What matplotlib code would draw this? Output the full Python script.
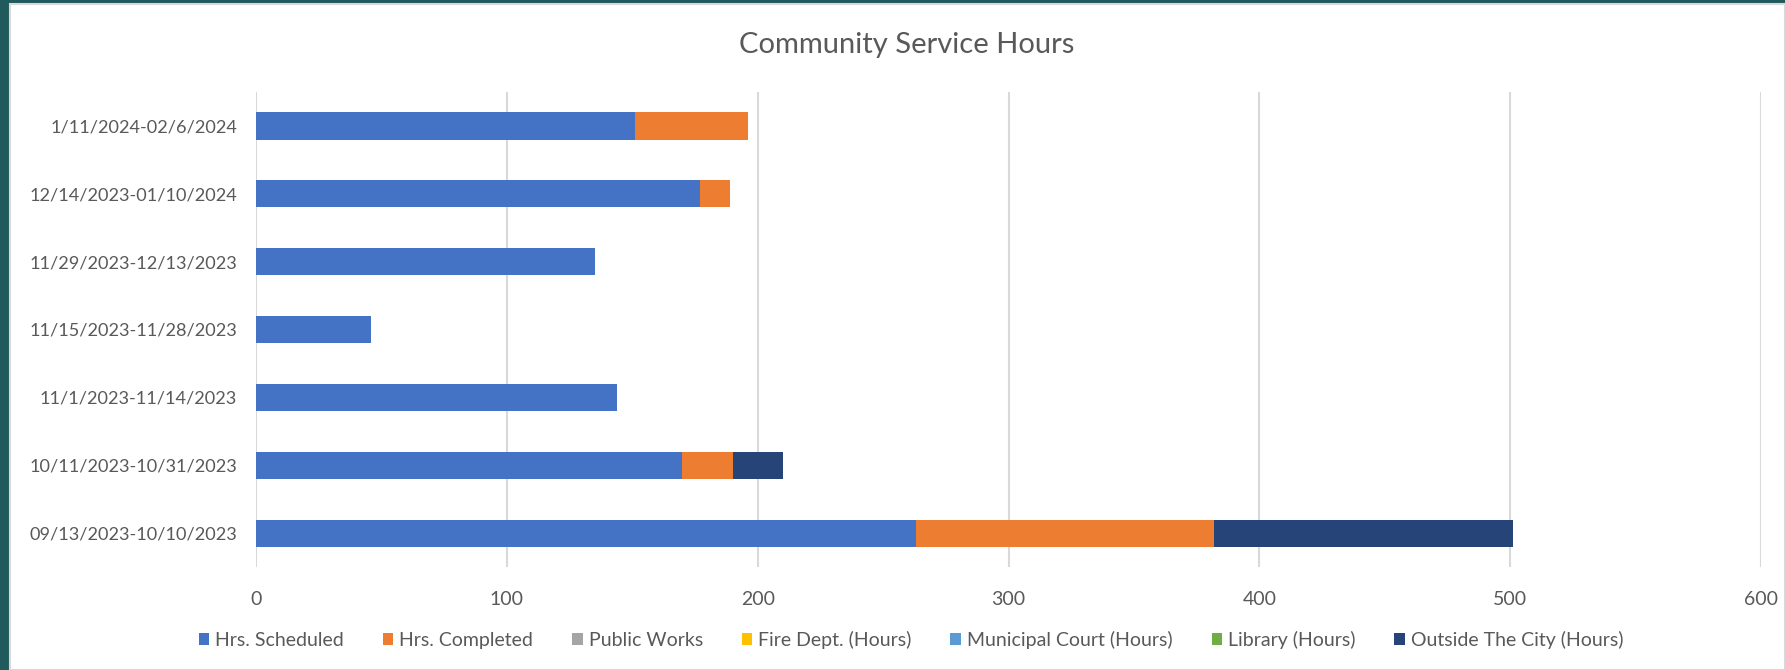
import matplotlib
matplotlib.use("Agg")
import matplotlib.pyplot as plt
from matplotlib.patches import Rectangle, Patch
import numpy as np

categories = [
    "1/11/2024-02/6/2024",
    "12/14/2023-01/10/2024",
    "11/29/2023-12/13/2023",
    "11/15/2023-11/28/2023",
    "11/1/2023-11/14/2023",
    "10/11/2023-10/31/2023",
    "09/13/2023-10/10/2023",
]
hrs_scheduled = [151, 177, 135, 46, 144, 170, 263]
hrs_completed = [45, 12, 0, 0, 0, 20, 119]
public_works = [0, 0, 0, 0, 0, 0, 0]
fire_dept = [0, 0, 0, 0, 0, 0, 0]
municipal_court = [0, 0, 0, 0, 0, 0, 0]
library = [0, 0, 0, 0, 0, 0, 0]
outside_city = [0, 0, 0, 0, 0, 20, 119]

series_names = ["Hrs. Scheduled", "Hrs. Completed", "Public Works", "Fire Dept. (Hours)",
                "Municipal Court (Hours)", "Library (Hours)", "Outside The City (Hours)"]
series_values = [hrs_scheduled, hrs_completed, public_works, fire_dept,
                 municipal_court, library, outside_city]
colors = ["#4472C4", "#ED7D31", "#A5A5A5", "#FFC000", "#5B9BD5", "#70AD47", "#264478"]
x_ticks = [0, 100, 200, 300, 400, 500, 600]

plt.rcParams['font.family'] = ['Lato', 'DejaVu Sans']
TXT = "#595959"

fig = plt.figure(figsize=(17.85, 6.7), dpi=100)
fig.patch.set_facecolor("#215a5c")
fig.patches.append(Rectangle((10 / 1785, 0), 1 - 10 / 1785, (670 - 4) / 670,
                             transform=fig.transFigure, facecolor="white",
                             edgecolor="#d9d9d9", linewidth=1.5, zorder=-10))

ax = fig.add_axes([256 / 1785, 1 - 567 / 670, (1761 - 256) / 1785, (567 - 92) / 670])
ax.set_facecolor("none")

y = np.arange(len(categories))
left = np.zeros(len(categories))
for name, vals, c in zip(series_names, series_values, colors):
    v = np.array(vals, dtype=float)
    ax.barh(y, v, left=left, height=0.4, color=c, label=name, zorder=3)
    left += v

ax.set_ylim(len(categories) - 0.5, -0.5)
ax.set_xlim(0, 600)
ax.set_xticks(x_ticks)
ax.set_xticklabels([str(t) for t in x_ticks])
ax.set_yticks(y)
ax.set_yticklabels(categories)
ax.tick_params(axis='both', length=0, labelcolor=TXT)
ax.tick_params(axis='x', pad=17, labelsize=14)
ax.tick_params(axis='y', pad=13.5, labelsize=13.1)
ax.xaxis.grid(True, color="#d9d9d9", linewidth=1.5, zorder=0)
ax.yaxis.grid(False)
ax.set_axisbelow(True)
for s in ax.spines.values():
    s.set_visible(False)

fig.text(907 / 1785, 1 - 45 / 670, "Community Service Hours", ha="center", va="center",
         fontsize=21, color=TXT)

handles = [Patch(facecolor=c, edgecolor="none") for c in colors]
leg = fig.legend(handles, series_names, loc="center", bbox_to_anchor=(911 / 1785, 1 - 640 / 670),
                 ncol=7, frameon=False, fontsize=14, handlelength=0.55, handleheight=0.55,
                 handletextpad=0.3, columnspacing=2.0, labelcolor=TXT)

fig.savefig("out.png", dpi=100, facecolor=fig.get_facecolor())
